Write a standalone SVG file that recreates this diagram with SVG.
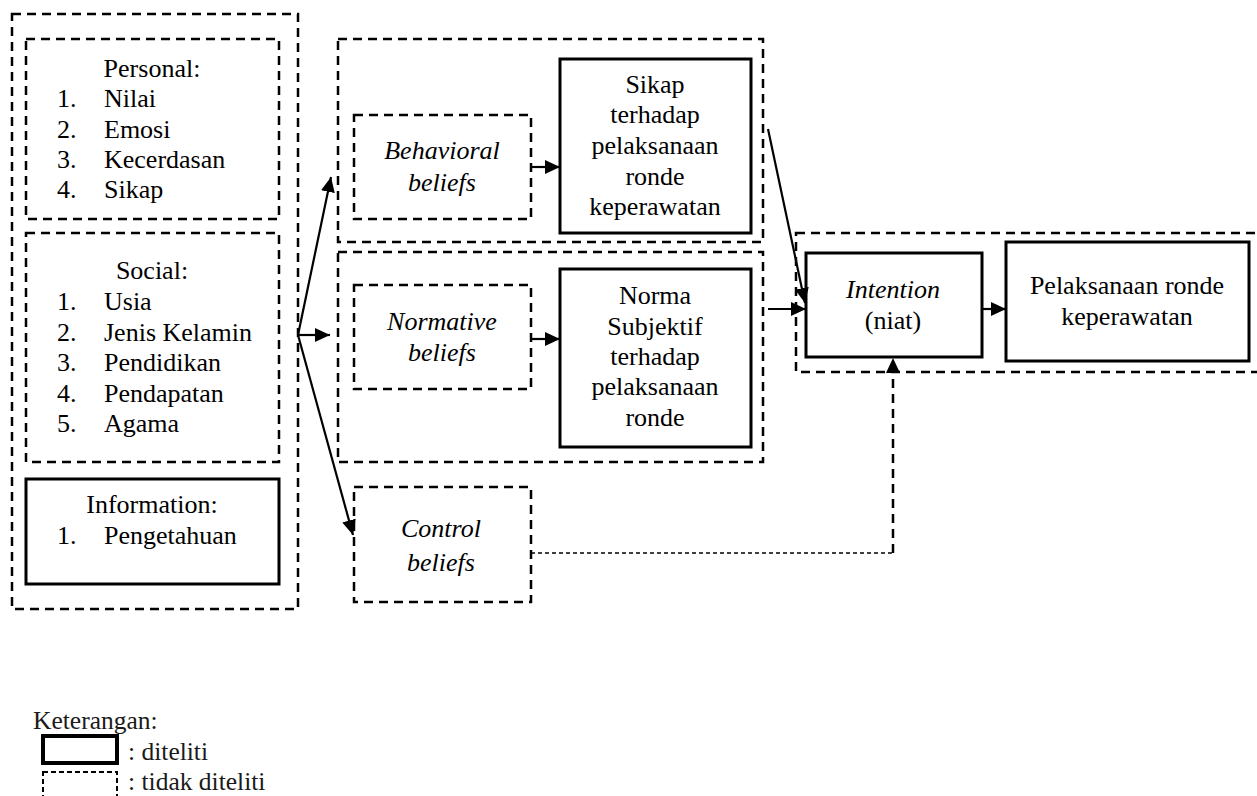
<svg xmlns="http://www.w3.org/2000/svg" width="1257" height="796" viewBox="0 0 1257 796">
<style>
text{font-family:"Liberation Serif","Times New Roman",serif;font-size:26px;fill:#000}
.c{text-anchor:middle}
.i{font-style:italic}
.dash{fill:none;stroke:#000;stroke-width:2.5;stroke-dasharray:9,6}
.solid{fill:none;stroke:#000;stroke-width:3}
.ln{fill:none;stroke:#000;stroke-width:2.2}
.leg{font-size:25.5px;fill:#1a1a1a}
</style>
<defs>
<marker id="ah" markerUnits="userSpaceOnUse" markerWidth="15" markerHeight="14" refX="15" refY="7" orient="auto">
<path d="M0,0 L15,7 L0,14 z" fill="#000"/>
</marker>
</defs>
<rect width="1257" height="796" fill="#fff"/>

<g id="left-group">
<rect class="dash" x="12" y="14" width="286" height="595"/>
</g>
<g id="personal">
<rect class="dash" x="26" y="39" width="253" height="180"/>
<text class="c" x="152" y="77">Personal:</text>
<text x="57" y="107">1.</text><text x="104" y="107">Nilai</text>
<text x="57" y="138">2.</text><text x="104" y="138">Emosi</text>
<text x="57" y="168">3.</text><text x="104" y="168">Kecerdasan</text>
<text x="57" y="198">4.</text><text x="104" y="198">Sikap</text>
</g>
<g id="social">
<rect class="dash" x="26" y="233" width="253" height="229"/>
<text class="c" x="152" y="279">Social:</text>
<text x="57" y="310">1.</text><text x="104" y="310">Usia</text>
<text x="57" y="341">2.</text><text x="104" y="341">Jenis Kelamin</text>
<text x="57" y="371">3.</text><text x="104" y="371">Pendidikan</text>
<text x="57" y="402">4.</text><text x="104" y="402">Pendapatan</text>
<text x="57" y="432">5.</text><text x="104" y="432">Agama</text>
</g>
<g id="information">
<rect class="solid" x="26" y="479" width="253" height="105"/>
<text class="c" x="152" y="513">Information:</text>
<text x="57" y="544">1.</text><text x="104" y="544">Pengetahuan</text>
</g>

<g id="attitude-group">
<rect class="dash" x="338" y="39" width="425" height="203"/>
</g>
<g id="behavioral-beliefs">
<rect class="dash" x="354" y="115" width="177" height="104"/>
<text class="c i" x="442" y="159">Behavioral</text>
<text class="c i" x="442" y="191">beliefs</text>
</g>
<g id="sikap">
<rect class="solid" x="560" y="59" width="191" height="174"/>
<text class="c" x="655" y="93">Sikap</text>
<text class="c" x="655" y="123">terhadap</text>
<text class="c" x="655" y="154">pelaksanaan</text>
<text class="c" x="655" y="185">ronde</text>
<text class="c" x="655" y="215">keperawatan</text>
</g>

<g id="norm-group">
<rect class="dash" x="338" y="252" width="425" height="210"/>
</g>
<g id="normative-beliefs">
<rect class="dash" x="354" y="285" width="177" height="104"/>
<text class="c i" x="442" y="330">Normative</text>
<text class="c i" x="442" y="361">beliefs</text>
</g>
<g id="norma">
<rect class="solid" x="560" y="269" width="191" height="178"/>
<text class="c" x="655" y="304">Norma</text>
<text class="c" x="655" y="335">Subjektif</text>
<text class="c" x="655" y="365">terhadap</text>
<text class="c" x="655" y="395">pelaksanaan</text>
<text class="c" x="655" y="426">ronde</text>
</g>

<g id="control-beliefs">
<rect class="dash" x="354" y="487" width="177" height="115"/>
<text class="c i" x="441" y="537">Control</text>
<text class="c i" x="441" y="571">beliefs</text>
</g>

<g id="intention-group">
<rect class="dash" x="796" y="233" width="470" height="139"/>
</g>
<g id="intention">
<rect class="solid" x="806" y="253" width="176" height="104"/>
<text class="c i" x="893" y="298">Intention</text>
<text class="c" x="893" y="329">(niat)</text>
</g>
<g id="pelaksanaan">
<rect class="solid" x="1006" y="242" width="243" height="119"/>
<text class="c" x="1127" y="294">Pelaksanaan ronde</text>
<text class="c" x="1127" y="325">keperawatan</text>
</g>

<g id="connectors">
<line class="ln" x1="298" y1="335" x2="331" y2="177" marker-end="url(#ah)"/>
<line class="ln" x1="298" y1="335" x2="330" y2="335" marker-end="url(#ah)"/>
<line class="ln" x1="298" y1="335" x2="353" y2="535" marker-end="url(#ah)"/>
<line class="ln" x1="531" y1="167" x2="560" y2="167" marker-end="url(#ah)"/>
<line class="ln" x1="531" y1="339" x2="560" y2="339" marker-end="url(#ah)"/>
<line class="ln" x1="768" y1="129" x2="805" y2="303" marker-end="url(#ah)"/>
<line class="ln" x1="768" y1="309" x2="806" y2="309" marker-end="url(#ah)"/>
<line class="ln" x1="982" y1="309" x2="1006" y2="309" marker-end="url(#ah)"/>
<line x1="531" y1="553" x2="893" y2="553" stroke="#000" stroke-width="1.5" stroke-dasharray="4,3"/>
<line x1="893" y1="553" x2="893" y2="358" stroke="#000" stroke-width="2.5" stroke-dasharray="9,6" marker-end="url(#ah)"/>
</g>

<g id="legend">
<text class="leg" x="33" y="729">Keterangan:</text>
<rect x="43" y="736" width="74" height="27" fill="none" stroke="#000" stroke-width="4"/>
<text class="leg" x="128" y="760">: diteliti</text>
<rect x="43" y="772" width="74" height="40" fill="none" stroke="#000" stroke-width="2" stroke-dasharray="5,3"/>
<text class="leg" x="128" y="790">: tidak diteliti</text>
</g>
</svg>
